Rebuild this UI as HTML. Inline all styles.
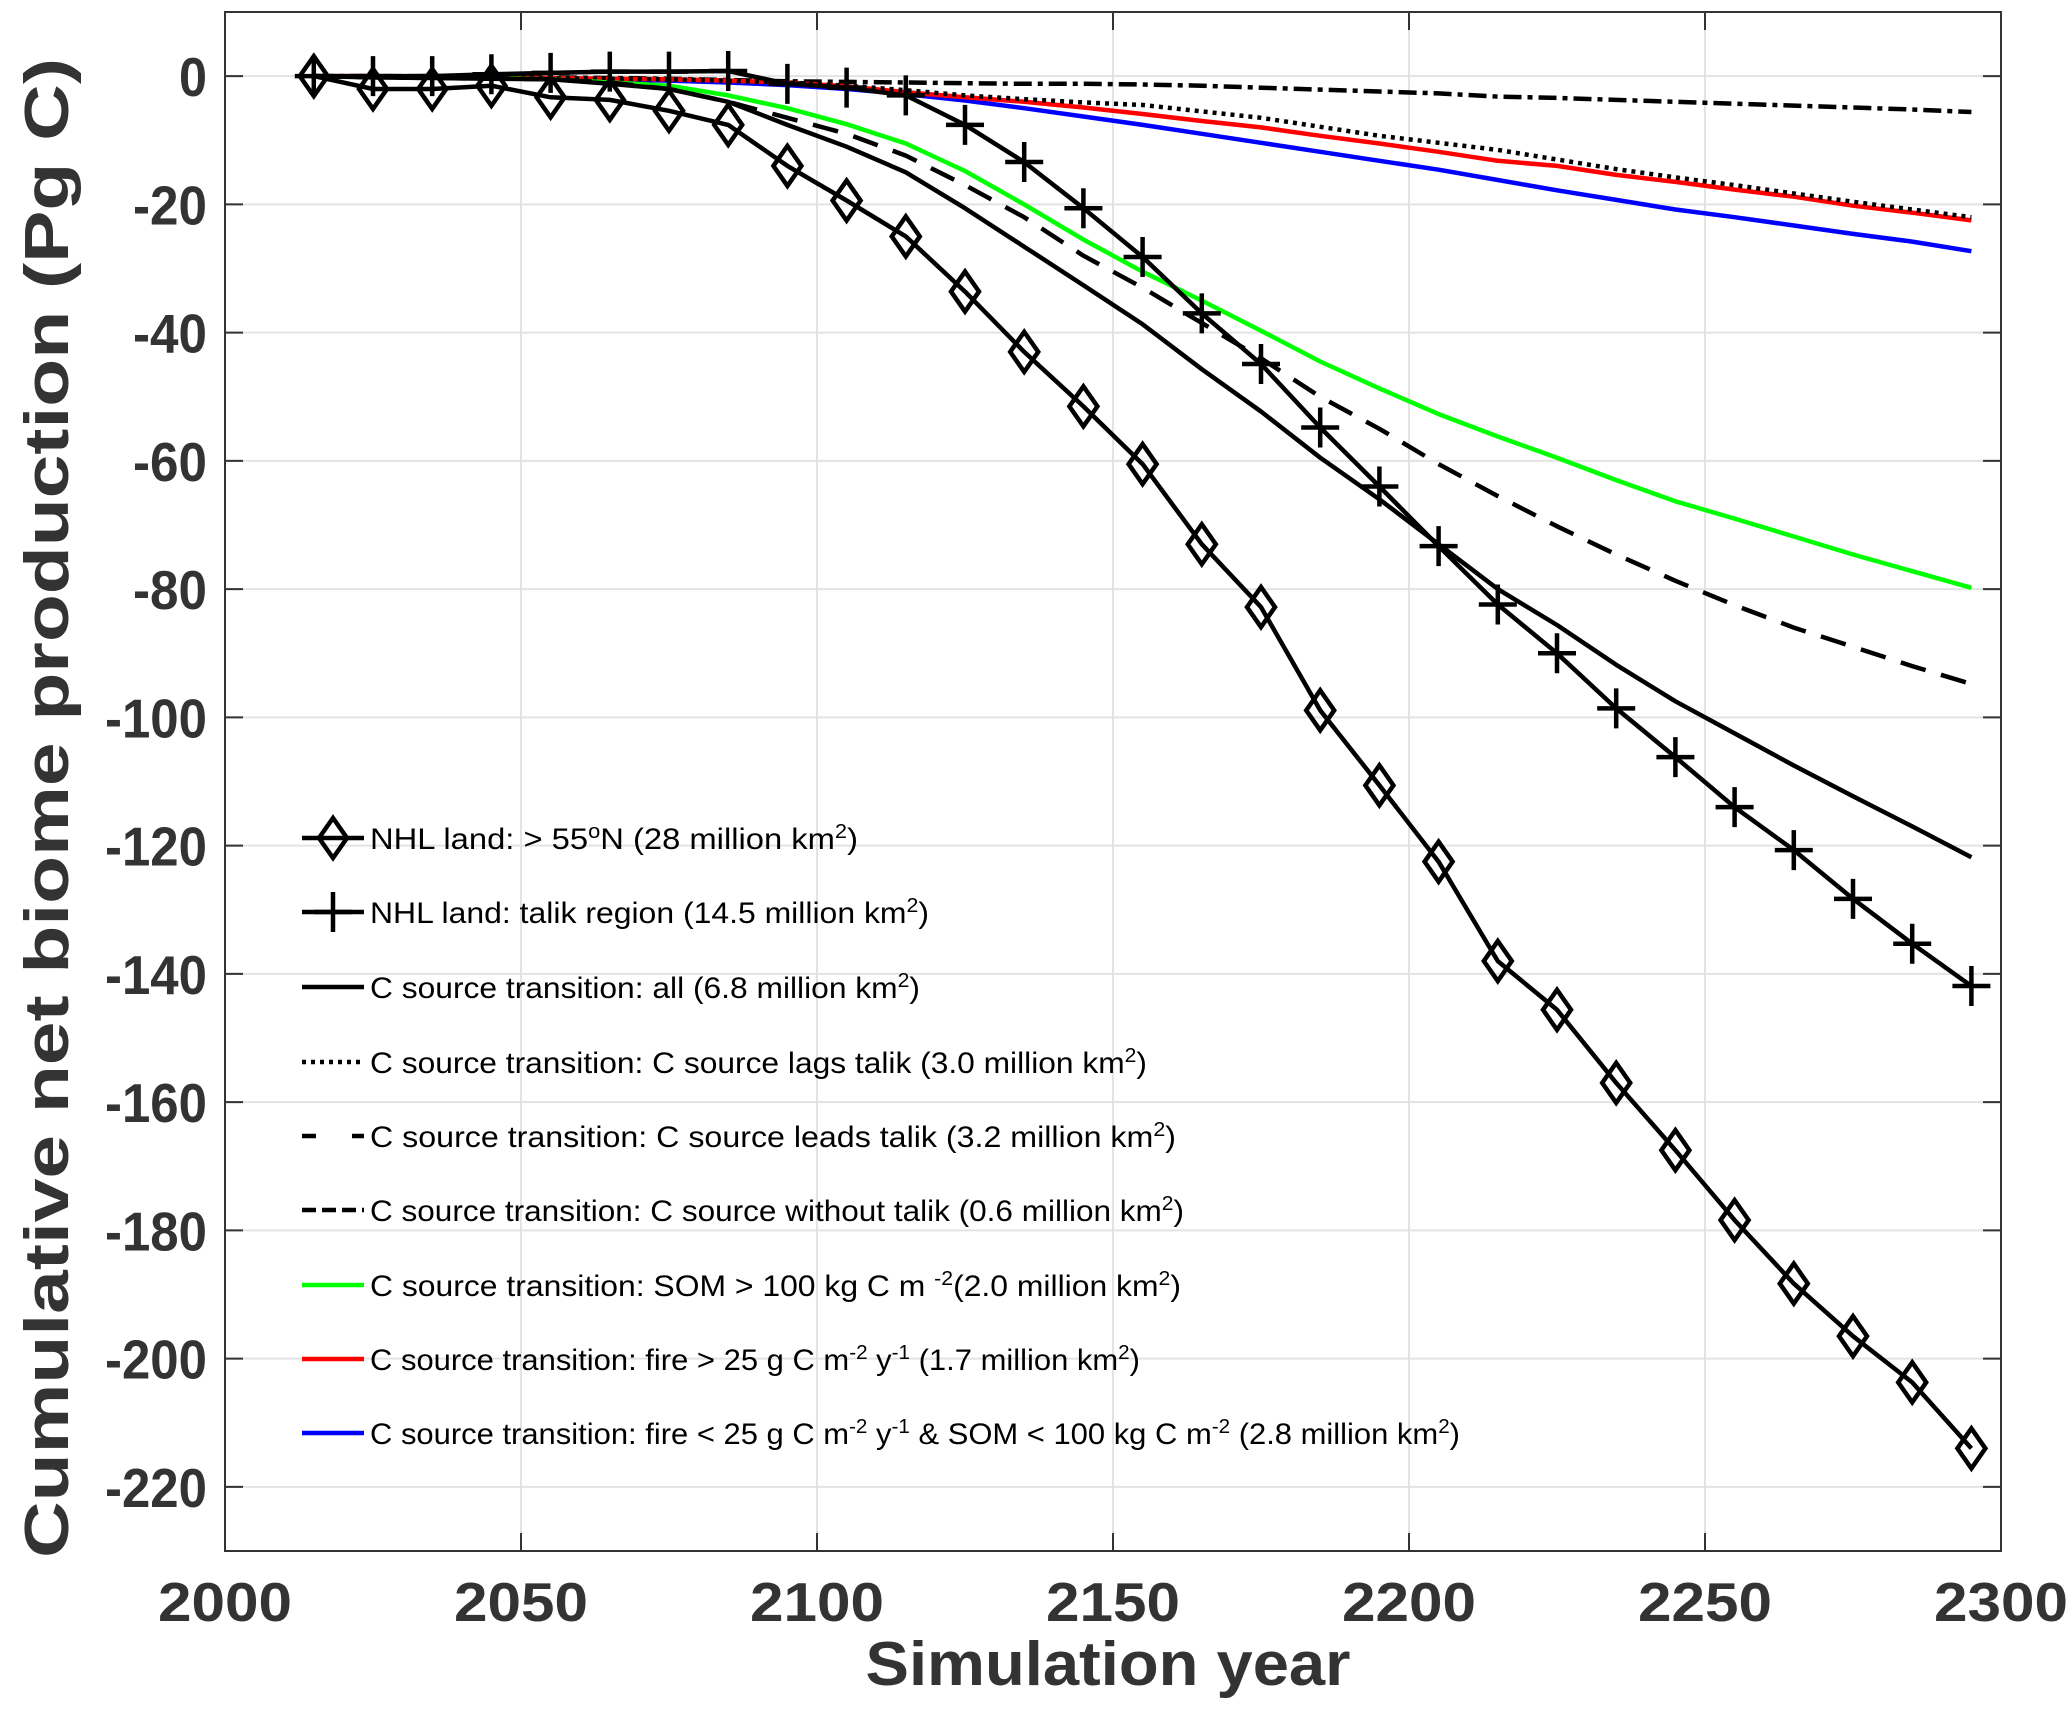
<!DOCTYPE html>
<html><head><meta charset="utf-8"><style>
html,body{margin:0;padding:0;background:#fff;}
svg{display:block;font-family:"Liberation Sans",sans-serif;}
</style></head><body>
<svg id="chart" width="2067" height="1713" viewBox="0 0 2067 1713" xmlns="http://www.w3.org/2000/svg">
<g id="grid"></g>
<g id="series"></g>
<rect x="225" y="12" width="1776" height="1539" fill="none" stroke="#333" stroke-width="2"/>
<g id="ticks"></g>
<text x="1108" y="1685" text-anchor="middle" font-size="62" font-weight="bold" fill="#333" textLength="485" lengthAdjust="spacingAndGlyphs">Simulation year</text>
<text transform="translate(68,808) rotate(-90)" text-anchor="middle" font-size="62" font-weight="bold" fill="#333" textLength="1500" lengthAdjust="spacingAndGlyphs">Cumulative net biome production (Pg C)</text>
<g id="legend" font-size="30" fill="#000"></g>
</svg>
<script>
const years = [2015,2025,2035,2045,2055,2065,2075,2085,2095,2105,2115,2125,2135,2145,2155,2165,2175,2185,2195,2205,2215,2225,2235,2245,2255,2265,2275,2285,2295];
const nhlAll = [0,-2,-2,-1.5,-3.3,-3.7,-5.4,-7.6,-14,-19.4,-25,-33.6,-43,-51.5,-60.5,-73,-82.8,-98.9,-110.6,-122.5,-138,-145.6,-157,-167.5,-178.4,-188.3,-196.5,-203.7,-214];
const nhlTalik = [0,0,0,0.3,0.5,0.7,0.7,0.8,-1.2,-1.8,-3,-7.6,-13.4,-20.6,-28.2,-37,-44.9,-54.8,-64,-73.3,-82.4,-90,-98.6,-106.2,-114,-120.7,-128.3,-135.3,-141.9];
const csAll = [0,-0.2,-0.3,-0.4,-0.5,-1.2,-2,-4,-7.6,-11,-15,-20.6,-26.6,-32.6,-38.7,-45.7,-52.3,-59.5,-66,-73,-80,-85.6,-91.8,-97.5,-102.5,-107.5,-112.3,-117,-121.8];
const csLags = [0,0,-0.1,-0.2,-0.3,-0.4,-0.5,-0.7,-1,-1.5,-2.2,-3,-3.6,-4.1,-4.5,-5.5,-6.5,-7.9,-9.3,-10.4,-11.5,-13,-14.5,-15.8,-17,-18.3,-19.6,-20.8,-22];
const csLeads = [0,-0.2,-0.3,-0.4,-0.5,-1,-2,-4,-6.5,-9,-12.4,-17,-22,-28,-33,-38.5,-44,-50,-55,-60.5,-65.5,-70.2,-74.6,-78.7,-82.5,-86,-89,-92,-94.8];
const csNoTalik = [0,0,0,-0.1,-0.2,-0.3,-0.4,-0.6,-0.8,-0.9,-1,-1.1,-1.2,-1.2,-1.3,-1.5,-1.8,-2.1,-2.4,-2.7,-3.2,-3.4,-3.7,-4,-4.3,-4.6,-4.9,-5.2,-5.6];
const csSom = [0,-0.1,-0.2,-0.3,-0.5,-1,-1.5,-3,-5,-7.5,-10.5,-14.8,-20,-25.5,-30.5,-35,-39.7,-44.5,-48.7,-52.7,-56.2,-59.5,-63,-66.3,-69,-71.8,-74.6,-77.2,-79.8];
const csFire = [0,0,-0.1,-0.2,-0.3,-0.4,-0.5,-0.7,-1,-1.6,-2.5,-3.3,-4,-4.9,-5.9,-7,-8,-9.3,-10.5,-11.8,-13.2,-14,-15.4,-16.5,-17.7,-18.8,-20.2,-21.3,-22.5];
const csOther = [0,-0.1,-0.2,-0.3,-0.4,-0.5,-0.7,-1,-1.4,-2,-2.8,-3.8,-5,-6.3,-7.6,-9,-10.4,-11.8,-13.2,-14.6,-16.2,-17.8,-19.3,-20.8,-22,-23.3,-24.6,-25.8,-27.3];
const xTicks = [2000,2050,2100,2150,2200,2250,2300];
const yTicks = [0,-20,-40,-60,-80,-100,-120,-140,-160,-180,-200,-220];

const X0=225,X1=2001,Y0=12,Y1=1551,XMIN=2000,XMAX=2300,YMIN=-230,YMAX=10;
const sx=v=>X0+(v-XMIN)/(XMAX-XMIN)*(X1-X0);
const sy=v=>Y0+(YMAX-v)/(YMAX-YMIN)*(Y1-Y0);
const NS="http://www.w3.org/2000/svg";
function mk(tag,attrs,parent){const e=document.createElementNS(NS,tag);for(const k in attrs)e.setAttribute(k,attrs[k]);parent.appendChild(e);return e;}
const grid=document.getElementById('grid'),ticks=document.getElementById('ticks'),ser=document.getElementById('series'),leg=document.getElementById('legend');

xTicks.forEach(t=>{
  const x=sx(t);
  const g=mk('line',{x1:x,x2:x,y1:Y0,y2:Y1,stroke:'#e3e3e3','stroke-width':2},grid);
  
  
  const a=mk('line',{x1:x,x2:x,y1:Y1,y2:Y1-18,stroke:'#333','stroke-width':2},ticks);
  
  
  const b=mk('line',{x1:x,x2:x,y1:Y0,y2:Y0+18,stroke:'#333','stroke-width':2},ticks);
  
  
  const l=mk('text',{x:x,y:1621,'text-anchor':'middle','font-size':55,'font-weight':'bold',fill:'#333',textLength:134,lengthAdjust:'spacingAndGlyphs'},ticks);
  l.textContent=t;
  
  
});
yTicks.forEach(t=>{
  const y=sy(t);
  const g=mk('line',{x1:X0,x2:X1,y1:y,y2:y,stroke:'#e3e3e3','stroke-width':2},grid);
  
  
  const a=mk('line',{x1:X0,x2:X0+18,y1:y,y2:y,stroke:'#333','stroke-width':2},ticks);
  
  
  const b=mk('line',{x1:X1,x2:X1-18,y1:y,y2:y,stroke:'#333','stroke-width':2},ticks);
  
  
  const s=String(t);
  const w=s.length*28-(t<0?10:0);
  const l=mk('text',{x:207,y:y+20,'text-anchor':'end','font-size':55,'font-weight':'bold',fill:'#333',textLength:w,lengthAdjust:'spacingAndGlyphs'},ticks);
  l.textContent=s;
  
  
});

function drawLine(vals,color,dash,name){
  const d=vals.map((v,i)=>(i?'L':'M')+sx(years[i]).toFixed(1)+','+sy(v).toFixed(1)).join(' ');
  const p=mk('path',{d:d,fill:'none',stroke:color,'stroke-width':4.5,'stroke-dasharray':dash||'none','stroke-linejoin':'round'},ser);
  
  
}
function diamond(x,y,parent){return mk('path',{d:`M${x},${y-20} L${x+14},${y} L${x},${y+20} L${x-14},${y} Z`,fill:'none',stroke:'#000','stroke-width':4.5},parent);}
function plus(x,y,parent){return mk('path',{d:`M${x-19},${y} H${x+19} M${x},${y-20} V${y+20}`,fill:'none',stroke:'#000','stroke-width':4.5},parent);}

drawLine(csNoTalik,'#000','18 6 5 6','line-c-source-without-talik');
drawLine(csOther,'#0000ff','','line-fire-low-som-low');
drawLine(csFire,'#ff0000','','line-fire-high');
drawLine(csLags,'#000','4 5','line-c-source-lags-talik');
drawLine(csSom,'#00ff00','','line-som-high');
drawLine(csLeads,'#000','26 16','line-c-source-leads-talik');
drawLine(csAll,'#000','','line-c-source-all');
drawLine(nhlTalik,'#000','','line-nhl-talik');
drawLine(nhlAll,'#000','','line-nhl-all');
years.forEach((yr,i)=>{
  const m=plus(sx(yr),sy(nhlTalik[i]),ser);
  
  
});
years.forEach((yr,i)=>{
  const m=diamond(sx(yr),sy(nhlAll[i]),ser);
  
  
});

const rows=[838,912,987,1062,1136,1210,1285,1359,1433];
const lx1=302,lx2=364,tx=370;
function legText(y,html,w,name){
  const t=mk('text',{x:tx,y:y+11,textLength:w,lengthAdjust:'spacingAndGlyphs'},leg);
  t.innerHTML=html;
  
  
}
function legLine(y,color,dash,name){
  const l=mk('line',{x1:lx1,x2:lx2,y1:y,y2:y,stroke:color,'stroke-width':4.5,'stroke-dasharray':dash||'none'},leg);
  
  
}
const sup=s=>`<tspan baseline-shift="super" font-size="20">${s}</tspan>`;
legLine(rows[0],'#000','','legend-swatch-nhl-all');
{const m=diamond(333,rows[0],leg);}
legText(rows[0],`NHL land: &gt;  55${sup('o')}N (28 million km${sup('2')})`,488,'legend-entry-nhl-all');
legLine(rows[1],'#000','','legend-swatch-nhl-talik');
{const m=plus(333,rows[1],leg);}
legText(rows[1],`NHL land: talik region (14.5 million km${sup('2')})`,559,'legend-entry-nhl-talik');
legLine(rows[2],'#000','','legend-swatch-all');
legText(rows[2],`C source transition: all (6.8 million km${sup('2')})`,550,'legend-entry-all');
legLine(rows[3],'#000','4 5','legend-swatch-lags');
legText(rows[3],`C source transition: C source lags talik (3.0 million km${sup('2')})`,777,'legend-entry-lags');
legLine(rows[4],'#000','14 36','legend-swatch-leads');
legText(rows[4],`C source transition: C source leads talik (3.2  million km${sup('2')})`,806,'legend-entry-leads');
legLine(rows[5],'#000','14 6','legend-swatch-without-talik');
legText(rows[5],`C source transition: C source without talik (0.6 million km${sup('2')})`,814,'legend-entry-without-talik');
legLine(rows[6],'#00ff00','','legend-swatch-som');
legText(rows[6],`C source transition: SOM &gt; 100 kg C m  ${sup('-2')}(2.0 million km${sup('2')})`,811,'legend-entry-som');
legLine(rows[7],'#ff0000','','legend-swatch-fire-high');
legText(rows[7],`C source transition: fire &gt; 25 g C m${sup('-2')} y${sup('-1')} (1.7 million km${sup('2')})`,770,'legend-entry-fire-high');
legLine(rows[8],'#0000ff','','legend-swatch-fire-low');
legText(rows[8],`C source transition: fire &lt; 25 g C m${sup('-2')} y${sup('-1')} &amp; SOM &lt; 100 kg C m${sup('-2')} (2.8 million km${sup('2')})`,1090,'legend-entry-fire-low');
</script>
</body></html>
